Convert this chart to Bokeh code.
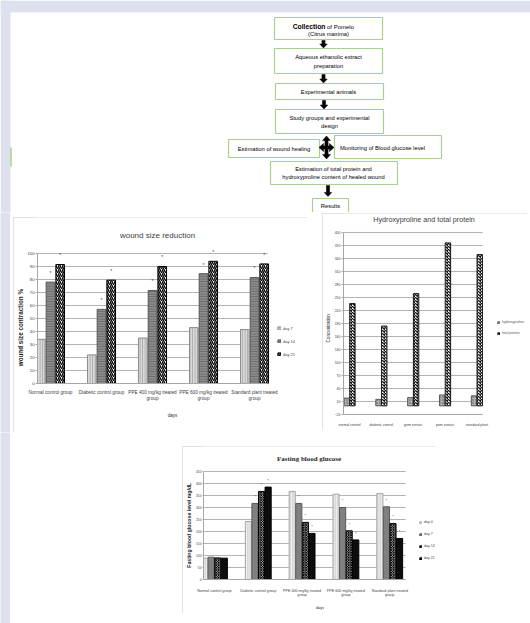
import numpy as np
from bokeh.plotting import figure
from bokeh.layouts import column, row
from bokeh.models import Range1d, FixedTicker, Legend, LegendItem, Spacer
from bokeh.core.properties import value
from bokeh.embed import file_html
from bokeh.resources import INLINE

# ---------------- data ----------------
flow_steps = ["Aqueous ethanolic extract\npreparation", "Experimental animals",
              "Study groups and experimental\ndesign", "Estimation of wound healing",
              "Monitoring of Blood glucose level",
              "Estimation of total protein and\nhydroxyproline content of healed wound", "Results"]

wound_groups = ["Normal control group", "Diabetic control group", "PPE 400 mg/kg treated\ngroup",
                "PPE 600 mg/kg treated\ngroup", "Standard plant treated\ngroup"]
wound_day7 = [34, 22, 35, 43, 41.5]
wound_day14 = [78, 57, 71.5, 84.5, 81.5]
wound_day21 = [91.5, 79.5, 90, 94, 92]
wound_ticks = list(range(0, 101, 10))

hp_groups = ["normal control", "diabetic control", "gem extract", "pom extract", "standard plant"]
hydroxyproline = [18, 15, 19, 25, 23]
total_protein = [236, 184, 259, 376, 349]
hp_ticks = list(range(-20, 401, 30))

fbg_groups = ["Normal control group", "Diabetic control group", "PPE 400 mg/kg treated\ngroup",
              "PPE 600 mg/kg treated\ngroup", "Standard plant treated\ngroup"]
fbg_day0 = [89, 242, 367, 356, 358]
fbg_day7 = [93, 317, 317, 300, 303]
fbg_day14 = [90, 367, 238, 203, 233]
fbg_day21 = [89, 385, 192, 165, 171]
fbg_ticks = list(range(0, 451, 50))

SANS = "Liberation Sans"
SERIF = "Liberation Serif"
LAV = "#dde1ee"
GREEN = "#a9d18e"
GRID = "#b3b3b3"
PANEL = {"outline": "1px solid #d9d9d9", "outline-offset": "-1px"}
NBSP = "\u00a0"


def make_chart(w, h, left, bottom, xr, yr, plot_end, ticks, labels, tick_size, label_size, standoff):
    """Chart whose frame fills the panel right of / above the axes; the plot area ends at plot_end."""
    p = figure(width=w, height=h, x_range=xr, y_range=yr, output_backend="svg",
               toolbar_location=None, min_border_left=left, min_border_right=0,
               min_border_top=0, min_border_bottom=bottom, styles=PANEL)
    p.outline_line_color = None
    p.background_fill_color = "white"
    p.border_fill_color = "white"
    p.grid.visible = False
    # horizontal gridlines across the plot area only
    p.segment(x0=[xr.start] * len(ticks), x1=[plot_end] * len(ticks), y0=ticks, y1=ticks,
              line_color=GRID, line_width=1, level="underlay")
    p.yaxis.ticker = FixedTicker(ticks=ticks)
    p.yaxis.bounds = (ticks[0], ticks[-1])
    p.xaxis.ticker = FixedTicker(ticks=list(range(len(labels))))
    p.xaxis.bounds = (xr.start, plot_end)
    p.xaxis.major_label_overrides = {i: lab for i, lab in enumerate(labels)}
    for ax in (p.xaxis[0], p.yaxis[0]):
        ax.minor_tick_line_color = None
        ax.minor_tick_in = 0
        ax.minor_tick_out = 0
        ax.major_tick_in = 0
        ax.axis_line_color = "#a6a6a6"
        ax.major_tick_line_color = "#a6a6a6"
        ax.major_label_text_font = SANS
        ax.major_label_text_color = "#404040"
        ax.axis_label_text_font = SANS
        ax.axis_label_text_color = "#262626"
    p.yaxis.major_tick_out = 2
    p.yaxis.major_label_standoff = 1
    p.yaxis.major_label_text_font_size = f"{tick_size}px"
    p.xaxis.major_tick_line_color = None
    p.xaxis.major_tick_out = 0
    p.xaxis.major_label_standoff = standoff
    p.xaxis.major_label_text_font_size = f"{label_size}px"
    return p


def strip(h):
    s = figure(width=10, height=h, output_backend="svg", toolbar_location=None, min_border=0,
               x_axis_type=None, y_axis_type=None)
    s.outline_line_color = None
    s.grid.visible = False
    s.background_fill_color = LAV
    s.border_fill_color = LAV
    return s


# ---------------- flowchart ----------------
fc = figure(width=530, height=212, x_range=Range1d(0, 530), y_range=Range1d(212, 0),
            output_backend="svg", toolbar_location=None, min_border=0,
            x_axis_type=None, y_axis_type=None)
fc.outline_line_color = None
fc.grid.visible = False
fc.quad(left=[0, 0], right=[530, 10], top=[0, 0], bottom=[12, 212], fill_color=LAV, line_color=None)
fc.segment(x0=[10.5], y0=[147], x1=[10.5], y1=[166], line_color=GREEN, line_width=1.5)

box_l = [274, 274, 275, 275, 228, 334, 270, 312]
box_r = [382, 382, 383, 383, 319, 441, 397, 348]
box_t = [17, 48, 83, 109, 139, 135, 161, 198]
box_b = [39, 73, 99, 133, 157, 158, 184, 212]
fc.quad(left=box_l, right=box_r, top=box_t, bottom=box_b, fill_color="white",
        line_color=GREEN, line_width=1.2)

step_x = [328, 328, 329, 273.5, 382, 333, 330]
step_y = [61, 91, 121.5, 148, 147, 172.5, 205]
for s, x, y in zip(flow_steps, step_x, step_y):
    fc.text(x=[x], y=[y], text=[s], text_font=value(SANS), text_font_size="5.8px",
            text_align="center", text_baseline="middle", text_color="#000000",
            text_line_height=1.4)
fc.text(x=[325], y=[25.5], text=["Collection"], text_font=value(SANS), text_font_size="6.8px",
        text_font_style="bold", text_align="right", text_baseline="middle", text_color="#000000")
fc.text(x=[326.5], y=[26], text=["of Pomelo"], text_font=value(SANS), text_font_size="6px",
        text_align="left", text_baseline="middle", text_color="#000000")
fc.text(x=[328], y=[33.5], text=["(Citrus maxima)"], text_font=value(SANS), text_font_size="5.8px",
        text_align="center", text_baseline="middle", text_color="#000000")


def down_arrow(cx, y0, y1, stem=3.2, head=7.5, hl=4.0):
    xs = [cx - stem / 2, cx + stem / 2, cx + stem / 2, cx + head / 2, cx, cx - head / 2, cx - stem / 2]
    ys = [y0, y0, y1 - hl, y1 - hl, y1, y1 - hl, y1 - hl]
    return xs, ys


def double_arrow_v(cx, top, bot, stem=3.2, head=8.0, hl=4.5):
    xs = [cx, cx + head / 2, cx + stem / 2, cx + stem / 2, cx + head / 2, cx, cx - head / 2,
          cx - stem / 2, cx - stem / 2, cx - head / 2]
    ys = [top, top + hl, top + hl, bot - hl, bot - hl, bot, bot - hl, bot - hl, top + hl, top + hl]
    return xs, ys


def double_arrow_h(cy, left, right, stem=3.2, head=8.0, hl=4.5):
    ys, xs = double_arrow_v(cy, left, right, stem, head, hl)
    return xs, ys


arrows = [down_arrow(323, 40, 47.5), down_arrow(323, 74, 82.5), down_arrow(323.5, 100, 108.5),
          down_arrow(327.5, 185, 196), double_arrow_v(326, 135.5, 158.5),
          double_arrow_h(147, 318.5, 333.5)]
fc.patches(xs=[a[0] for a in arrows], ys=[a[1] for a in arrows], fill_color="black", line_color="black",
           line_width=0.5)

# ---------------- wound size reduction ----------------
wx = np.arange(len(wound_groups))
pw = make_chart(294, 215, 24, 49, Range1d(-0.255, 5.039), Range1d(0, 127.7), 4.255, wound_ticks,
                wound_groups, 4.2, 4.7, 6)
w_off = [-0.19, 0.0, 0.19]
r7 = pw.vbar(x=wx + w_off[0], top=wound_day7, width=0.17, fill_color="#d9d9d9", line_color="#8c8c8c",
             hatch_pattern="vertical_line", hatch_color="#a6a6a6", hatch_scale=2.5, hatch_weight=1)
r14 = pw.vbar(x=wx + w_off[1], top=wound_day14, width=0.17, fill_color="#8c8c8c", line_color="#595959",
              hatch_pattern="horizontal_line", hatch_color="#666666", hatch_scale=2.5, hatch_weight=1)
r21 = pw.vbar(x=wx + w_off[2], top=wound_day21, width=0.17, fill_color="white", line_color="black",
              hatch_pattern="right_diagonal_line", hatch_color="black", hatch_scale=4, hatch_weight=1.4)
for off, vals in ((w_off[1], wound_day14), (w_off[2], wound_day21)):
    pw.text(x=wx + off, y=np.array(vals) + 7, text=["*"] * len(vals), text_font_size="5px",
            text_align="center", text_baseline="middle", text_color="#404040")
pw.add_layout(Legend(items=[LegendItem(label="day 7", renderers=[r7]),
                            LegendItem(label="day 14", renderers=[r14]),
                            LegendItem(label="day 21", renderers=[r21])],
                     location=(240, 24), glyph_width=4, glyph_height=4, label_height=10,
                     label_text_font_size="4px", label_text_font=SANS, label_text_color="#404040",
                     spacing=3, padding=0, margin=0, label_standoff=2, border_line_color=None,
                     background_fill_alpha=0))
pw.text(x=[2.098], y=[113.8], text=["wound size reduction"], text_font=value(SANS),
        text_font_size="8px", text_align="center", text_baseline="middle", text_color="#404040")
# trailing no-break spaces centre the label on the plot area rather than on the taller frame
pw.yaxis.axis_label = "wound size contraction %" + NBSP * 31
pw.yaxis.axis_label_text_font_size = "6.3px"
pw.yaxis.axis_label_text_font_style = "bold"
pw.yaxis.axis_label_standoff = 1
pw.xaxis.axis_label = "days"
pw.xaxis.axis_label_text_font_size = "4.5px"
pw.xaxis.axis_label_text_font_style = "normal"
pw.xaxis.axis_label_standoff = 9

# ---------------- hydroxyproline and total protein ----------------
hx = np.arange(len(hp_groups))
ph = make_chart(205, 216, 20, 15, Range1d(-0.19, 5.59), Range1d(-20, 443.8), 4.185, hp_ticks,
                hp_groups, 3.5, 3.5, 8)
rh = ph.vbar(x=hx - 0.09, top=hydroxyproline, width=0.17, fill_color="#8c8c8c", line_color="#595959",
             hatch_pattern="cross", hatch_color="#b3b3b3", hatch_scale=3, hatch_weight=0.8)
rp = ph.vbar(x=hx + 0.09, top=total_protein, width=0.17, fill_color="white", line_color="#1a1a1a",
             hatch_pattern="diagonal_cross", hatch_color="#1a1a1a", hatch_scale=3, hatch_weight=1.3)
ph.add_layout(Legend(items=[LegendItem(label="hydroxyproline", renderers=[rh]),
                            LegendItem(label="total protein", renderers=[rp])],
                     location=(154, 77), glyph_width=3, glyph_height=3, label_height=8,
                     label_text_font_size="3.4px", label_text_font=SANS, label_text_color="#595959",
                     spacing=3, padding=0, margin=0, label_standoff=2, border_line_color=None,
                     background_fill_alpha=0))
ph.text(x=[2.34], y=[430], text=["Hydroxyproline and total protein"], text_font=value(SANS),
        text_font_size="7.2px", text_align="center", text_baseline="middle", text_color="#404040")
ph.yaxis.axis_label = "Concentration" + NBSP * 23
ph.yaxis.axis_label_text_font_size = "4.5px"
ph.yaxis.axis_label_text_font_style = "normal"
ph.yaxis.axis_label_standoff = 1

# ---------------- fasting blood glucose ----------------
fx = np.arange(len(fbg_groups))
pf = make_chart(254, 167, 20, 34, Range1d(-0.25, 5.068), Range1d(0, 554.2), 4.364, fbg_ticks,
                fbg_groups, 3.3, 3.7, 9)
pf.yaxis.major_tick_out = 1
f_off = [-0.225, -0.075, 0.075, 0.225]
f0 = pf.vbar(x=fx + f_off[0], top=fbg_day0, width=0.14, fill_color="#d9d9d9", line_color="#a6a6a6",
             hatch_pattern="vertical_line", hatch_color="#f2f2f2", hatch_scale=2.5, hatch_weight=1)
f7 = pf.vbar(x=fx + f_off[1], top=fbg_day7, width=0.14, fill_color="#808080", line_color="#595959")
f14 = pf.vbar(x=fx + f_off[2], top=fbg_day14, width=0.14, fill_color="white", line_color="black",
              hatch_pattern="diagonal_cross", hatch_color="black", hatch_scale=2.5, hatch_weight=1.2)
f21 = pf.vbar(x=fx + f_off[3], top=fbg_day21, width=0.14, fill_color="#0d0d0d", line_color="black")
for off, vals in ((f_off[1], fbg_day7), (f_off[2], fbg_day14), (f_off[3], fbg_day21)):
    pf.text(x=(fx + off)[1:], y=(np.array(vals) + 28)[1:], text=["*"] * (len(vals) - 1),
            text_font_size="4px", text_align="center", text_baseline="middle", text_color="#404040")
pf.add_layout(Legend(items=[LegendItem(label="day 0", renderers=[f0]),
                            LegendItem(label="day 7", renderers=[f7]),
                            LegendItem(label="day 14", renderers=[f14]),
                            LegendItem(label="day 21", renderers=[f21])],
                     location=(216, 17), glyph_width=3, glyph_height=3, label_height=8,
                     label_text_font_size="3.6px", label_text_font=SANS, label_text_color="#404040",
                     spacing=4, padding=0, margin=0, label_standoff=2, border_line_color=None,
                     background_fill_alpha=0))
pf.text(x=[2.159], y=[503], text=["Fasting blood glucose"], text_font=value(SERIF),
        text_font_size="7px", text_font_style="bold", text_align="center", text_baseline="middle",
        text_color="#262626")
pf.yaxis.axis_label = "Fasting blood glucose level mg/dL" + NBSP * 17
pf.yaxis.axis_label_text_font_size = "5.2px"
pf.yaxis.axis_label_text_font_style = "bold"
pf.yaxis.axis_label_standoff = 1
pf.xaxis.axis_label = "days"
pf.xaxis.axis_label_text_font_size = "3.8px"
pf.xaxis.axis_label_text_font_style = "normal"
pf.xaxis.axis_label_standoff = 6

row2 = row(strip(220), Spacer(width=3, height=220), column(Spacer(width=294, height=5), pw),
           Spacer(width=15, height=220), column(Spacer(width=205, height=1), ph))
row3 = row(strip(191), Spacer(width=172, height=191), column(Spacer(width=254, height=14), pf))
layout = column(fc, row2, row3)
open("out.html", "w").write(file_html(layout, INLINE))
